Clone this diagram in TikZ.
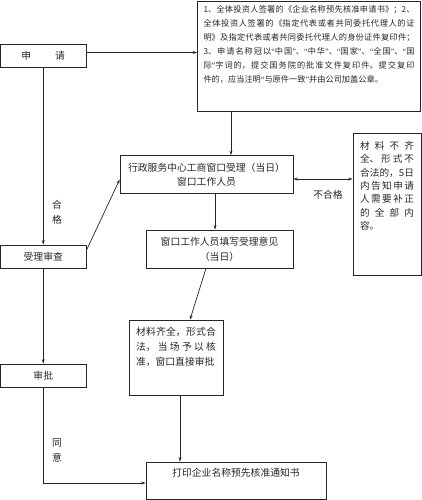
\documentclass[tikz,border=0pt]{standalone}
\usepackage{fontspec}
\setmainfont{Noto Sans CJK SC}
\newfontfamily\quotefont{Liberation Serif}
\newcommand{\zlq}{{\quotefont “}}
\newcommand{\zrq}{{\quotefont ”}}
\XeTeXlinebreaklocale "zh"
\XeTeXlinebreakskip=0pt plus 1pt
\usetikzlibrary{arrows.meta}

\begin{document}
\begin{tikzpicture}[x=1pt,y=-1pt,
    >={Stealth[length=4.5pt,width=3pt]},
    every node/.style={font=\fontsize{9.8}{14}\selectfont, text=black!85},
    box/.style={draw=black!85, line width=0.7pt, inner sep=0pt, align=center},
    link/.style={draw=black!85, line width=0.7pt, ->},
    lbl/.style={align=center, font=\fontsize{9.8}{15}\selectfont}]
    \useasboundingbox (0,0) rectangle (422,500);

    % left column
    \node[box, minimum width=85.5pt, minimum height=23pt] (apply) at (43.25,55.5) {申\hspace{24pt}请};
    \node[box, minimum width=85.5pt, minimum height=23pt] (review) at (43.25,256.5) {受理审查};
    \node[box, minimum width=85.5pt, minimum height=23pt] (sign) at (43.25,375.5) {审批};

    % documents
    \node[box, inner xsep=6pt, inner ysep=5pt] (docs) at (309,56) {\parbox[c][100pt][t]{211pt}{\fontsize{8.2}{14}\selectfont
1、全体投资人签署的《企业名称预先核准申请书》；2、\linebreak
全体投资人签署的《指定代表或者共同委托代理人的证\linebreak
明》及指定代表或者共同委托代理人的身份证件复印件；\linebreak
3、申请名称冠以\zlq 中国\zrq 、\zlq 中华\zrq 、\zlq 国家\zrq 、\zlq 全国\zrq 、\zlq 国\linebreak
际\zrq 字词的，提交国务院的批准文件复印件。提交复印\linebreak
件的，应当注明\zlq 与原件一致\zrq 并由公司加盖公章。}};

    \node[box, minimum width=173pt, minimum height=38pt] (accept) at (206.5,174.5) {行政服务中心工商窗口受理（当日）\\窗口工作人员};
    \node[box, inner xsep=7pt, inner ysep=8.5pt] (reject) at (387,204) {\parbox[c][125pt][t]{54pt}{\fontsize{9.6}{13.33}\selectfont
材料不齐\linebreak
全、形式不\linebreak
合法的，5日\linebreak
内告知申请\linebreak
人需要补正\linebreak
的全部内\linebreak
容。}};
    \node[box, minimum width=147pt, minimum height=38pt, font=\fontsize{9.8}{15}\selectfont] (opinion) at (219.5,249) {窗口工作人员填写受理意见\\（当日）};
    \node[box, inner xsep=7pt, inner ysep=7.5pt] (approve) at (176,357.5) {\parbox[c][60pt][t]{80pt}{\fontsize{9.8}{15}\selectfont
材料齐全，形式合\linebreak
法，当场予以核\linebreak
准，窗口直接审批}};
    \node[box, minimum width=180pt, text height=10.5pt, text depth=18.5pt, inner ysep=4pt] (notice) at (236,480.5) {打印企业名称预先核准通知书};

    % labels
    \node[lbl] (pass) at (57,212.5) {合\\格};
    \node[lbl] (agree) at (57,450.5) {同\\意};

    % connectors
    \coordinate (cdocs) at (231,0);
    \coordinate (cmid) at (215,0);
    \draw[link] ([yshift=3pt]apply.east) -- ([yshift=3pt]apply.east -| docs.west);
    \draw[link] (apply.south) -- (review.north);
    \draw[link] (review.south) -- (sign.north);
    \draw[link] (sign.south) |- ([yshift=-2.5pt]notice.west);
    \draw[link] (docs.south -| cdocs) -- (accept.north -| cdocs);
    \draw[link] ([yshift=6pt]review.east) -- ([yshift=-5pt]accept.west);
    \draw[link, <->] ([yshift=-4.5pt]accept.east) -- ([yshift=-4.5pt]accept.east -| reject.west)
        node[midway, below=8pt, xshift=5pt] (fail) {不合格};
    \draw[link] (accept.south -| cmid) -- (opinion.north -| cmid);
    \draw[link] ([xshift=-13.5pt]opinion.south) -- ([xshift=14pt]approve.north);
    \draw[link] ([xshift=4pt]approve.south) -- ([xshift=4pt]approve.south |- notice.north);
\end{tikzpicture}
\end{document}
